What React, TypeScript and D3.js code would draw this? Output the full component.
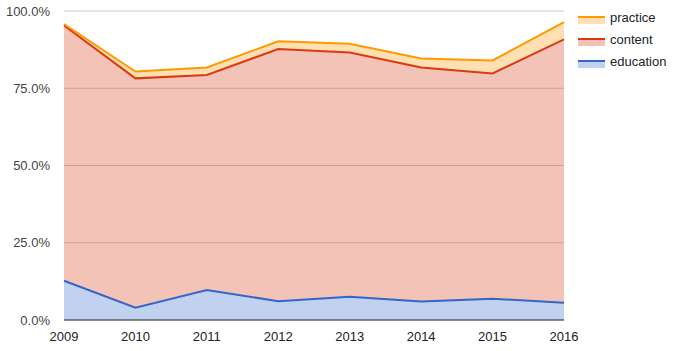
import React from "react";
import * as d3 from "d3";

const years = ["2009", "2010", "2011", "2012", "2013", "2014", "2015", "2016"];
const education = [12.7, 4.0, 9.7, 6.1, 7.5, 6.0, 6.9, 5.6];
const content = [82.6, 74.2, 69.6, 81.6, 79.1, 75.7, 72.9, 85.2];
const practice = [0.5, 2.2, 2.4, 2.5, 2.8, 2.9, 4.2, 5.6];
const yTicks = [0, 25, 50, 75, 100];

const seriesNames = ["education", "content", "practice"];
const seriesColors: Record<string, string> = {
  education: "#3366cc",
  content: "#dc3912",
  practice: "#ff9900",
};

export default function App() {
  const W = 675, H = 351;
  const x0 = 64, x1 = 564, yTop = 11, yBot = 320;
  const x = d3.scalePoint<string>().domain(years).range([x0, x1]);
  const y = d3.scaleLinear().domain([0, 100]).range([yBot, yTop]);

  const rows = years.map((yr, i) => ({
    year: yr,
    education: education[i],
    content: content[i],
    practice: practice[i],
  }));
  const stacked = d3.stack<any>().keys(seriesNames)(rows);

  const area = d3
    .area<any>()
    .x((d) => x(d.data.year) as number)
    .y0((d) => y(d[0]))
    .y1((d) => y(d[1]));
  const line = d3
    .line<any>()
    .x((d) => x(d.data.year) as number)
    .y((d) => y(d[1]));

  const legendItems = ["practice", "content", "education"];
  const font = "Arial, 'Liberation Sans', sans-serif";

  return (
    <svg
      width={W}
      height={H}
      style={{ position: "absolute", left: 0, top: 0, background: "#fff" }}
    >
      {yTicks.map((t) => (
        <line
          key={t}
          x1={x0}
          x2={x1}
          y1={y(t)}
          y2={y(t)}
          stroke="#cccccc"
          strokeWidth={1}
        />
      ))}
      {stacked.map((s) => (
        <path
          key={s.key + "a"}
          d={area(s) as string}
          fill={seriesColors[s.key]}
          fillOpacity={0.3}
        />
      ))}
      {stacked.map((s) => (
        <path
          key={s.key + "l"}
          d={line(s) as string}
          fill="none"
          stroke={seriesColors[s.key]}
          strokeWidth={2}
        />
      ))}
      <line x1={x0} x2={x1} y1={yBot} y2={yBot} stroke="#333" strokeWidth={1} />
      {yTicks.map((t) => (
        <text
          key={"yl" + t}
          x={50}
          y={y(t) + 4.5}
          textAnchor="end"
          fontFamily={font}
          fontSize={13}
          fill="#444"
        >
          {t.toFixed(1) + "%"}
        </text>
      ))}
      {years.map((yr) => (
        <text
          key={"xl" + yr}
          x={x(yr) as number}
          y={341}
          textAnchor="middle"
          fontFamily={font}
          fontSize={13}
          fill="#222"
        >
          {yr}
        </text>
      ))}
      {legendItems.map((k, i) => {
        const ly = 17 + i * 22;
        return (
          <g key={"lg" + k}>
            <rect x={578} y={ly} width={27} height={7} fill={seriesColors[k]} fillOpacity={0.3} />
            <line x1={578} x2={605} y1={ly} y2={ly} stroke={seriesColors[k]} strokeWidth={2} />
            <text
              x={610}
              y={ly + 5}
              fontFamily={font}
              fontSize={13}
              fill="#222"
            >
              {k}
            </text>
          </g>
        );
      })}
    </svg>
  );
}
